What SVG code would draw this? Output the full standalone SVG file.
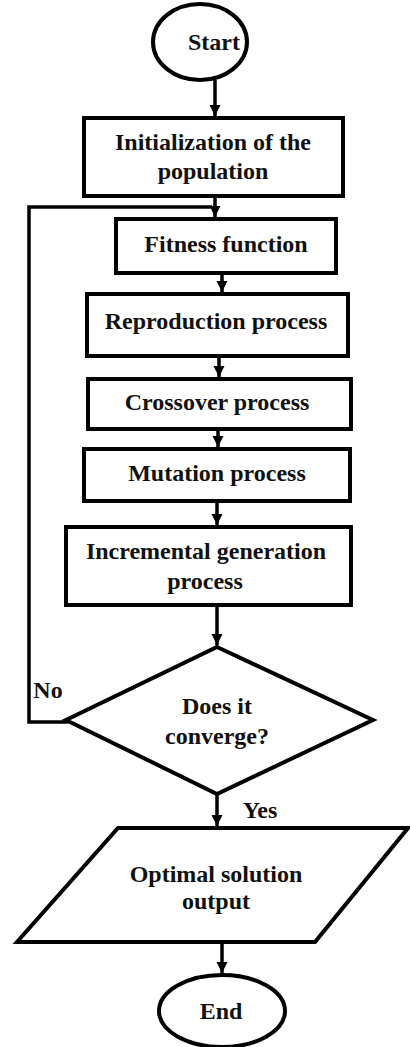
<svg xmlns="http://www.w3.org/2000/svg" width="410" height="1047" viewBox="0 0 410 1047">
<style>
.n{fill:#fff;stroke:#000;stroke-width:4}
.t{font-family:'Liberation Serif','DejaVu Serif',serif;font-weight:700;font-size:24px;fill:#111;text-anchor:middle}
.c{fill:none;stroke:#000;stroke-width:3.5}
</style>
<defs>
<marker id="ah" viewBox="0 0 10 10" refX="10" refY="5" markerWidth="3.2" markerHeight="3.2" orient="auto" markerUnits="strokeWidth">
<path d="M0,0 L10,5 L0,10 z" fill="#000"/>
</marker>
</defs>
<rect width="410" height="1047" fill="#fff"/>
<g id="connectors">
<path class="c" d="M215,80 V116" marker-end="url(#ah)"/>
<path class="c" d="M215,196 V217" marker-end="url(#ah)"/>
<path class="c" d="M68,722 H29 V207 H212"/>
<path class="c" d="M222,273 V292" marker-end="url(#ah)"/>
<path class="c" d="M219,356 V377" marker-end="url(#ah)"/>
<path class="c" d="M218,429 V447" marker-end="url(#ah)"/>
<path class="c" d="M217,501 V525" marker-end="url(#ah)"/>
<path class="c" d="M217,605 V645" marker-end="url(#ah)"/>
<path class="c" d="M217,794 V826" marker-end="url(#ah)"/>
<path class="c" d="M222,942 V973" marker-end="url(#ah)"/>
<text class="t" x="48" y="698">No</text>
<text class="t" x="260" y="818">Yes</text>
</g>
<g id="start">
<ellipse class="n" cx="200" cy="42" rx="47" ry="38"/>
<text class="t" x="214" y="50">Start</text>
</g>
<g id="init">
<rect class="n" x="84" y="118" width="259" height="78"/>
<text class="t" x="213" y="150">Initialization of the</text>
<text class="t" x="213" y="179">population</text>
</g>
<g id="fitness">
<rect class="n" x="116" y="219" width="220" height="54"/>
<text class="t" x="226" y="252">Fitness function</text>
</g>
<g id="reproduction">
<rect class="n" x="87" y="294" width="261" height="62"/>
<text class="t" x="216" y="329">Reproduction process</text>
</g>
<g id="crossover">
<rect class="n" x="88" y="379" width="263" height="50"/>
<text class="t" x="217" y="410">Crossover process</text>
</g>
<g id="mutation">
<rect class="n" x="84" y="449" width="266" height="52"/>
<text class="t" x="217" y="481">Mutation process</text>
</g>
<g id="incremental">
<rect class="n" x="66" y="527" width="285" height="78"/>
<text class="t" x="206" y="559">Incremental generation</text>
<text class="t" x="205" y="589">process</text>
</g>
<g id="decision">
<polygon class="n" points="217,647 373,720 217,794 66,720"/>
<text class="t" x="217" y="714">Does it</text>
<text class="t" x="217" y="744">converge?</text>
</g>
<g id="output">
<polygon class="n" points="118,828 408,828 315,942 17,942"/>
<text class="t" x="216" y="882">Optimal solution</text>
<text class="t" x="216" y="909">output</text>
</g>
<g id="end">
<ellipse class="n" cx="222" cy="1011" rx="63" ry="36"/>
<text class="t" x="221" y="1019">End</text>
</g>
</svg>
